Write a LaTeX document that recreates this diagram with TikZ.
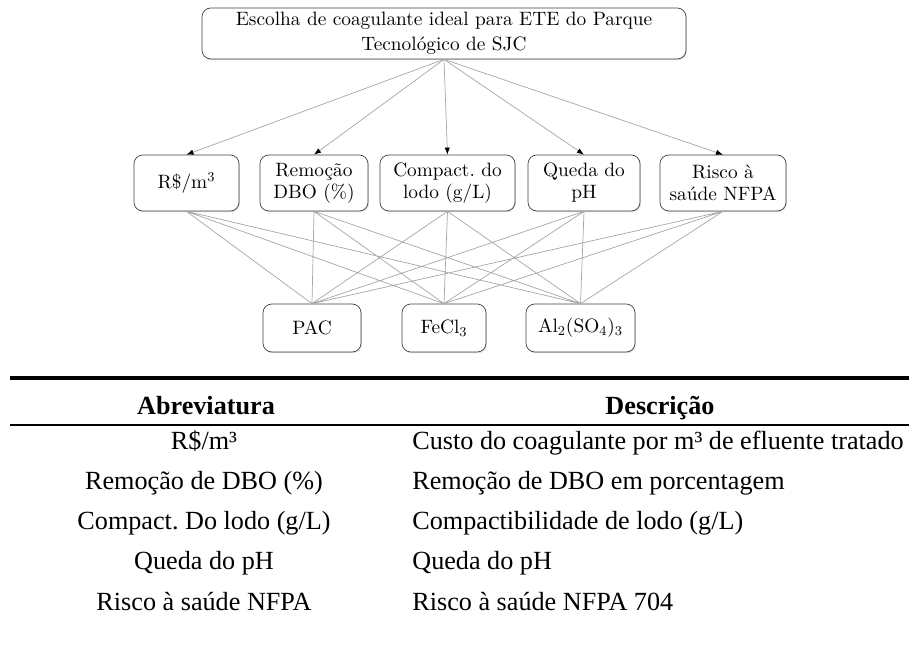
\documentclass[tikz,border=0pt]{standalone}
\usepackage{fontspec}
\setmainfont{Liberation Serif}
\newfontfamily\diagfont{Latin Modern Roman}
\usetikzlibrary{positioning,shapes,shadows,arrows.meta}

\tikzset{
    caixa/.style={draw=black!75, rounded corners=5pt, fill=white, align=center,
        inner sep=0pt, font=\diagfont\fontsize{11}{12.5}\selectfont,
        drop shadow={opacity=0.25, shadow xshift=0.5pt, shadow yshift=-0.7pt}},
    liga/.style={draw=gray!70, line width=0.4pt},
    seta/.style={liga, -{Latex[length=4pt,width=3pt,black]}},
    tabtexto/.style={font=\rmfamily\fontsize{14.9}{18}\selectfont, inner sep=0pt, anchor=base},
    tabtitulo/.style={tabtexto, font=\rmfamily\bfseries\fontsize{14.9}{18}\selectfont},
}

\begin{document}
\frenchspacing
\begin{tikzpicture}
    \useasboundingbox (0,0) rectangle (18.18,-12.94);

    % objetivo
    \node[caixa, minimum width=9.68cm, minimum height=1.02cm,
          font=\diagfont\fontsize{11}{14}\selectfont] (obj) at (8.88,-0.67)
        {Escolha de coagulante ideal para ETE do Parque\\Tecnológico de SJC};

    % criterios
    \node[caixa, minimum width=2.1cm, minimum height=1.12cm] (custo) at (3.73,-3.66)
        {R\$/m\textsuperscript{3}};
    \node[caixa, minimum width=2.16cm, minimum height=1.12cm] (dbo) at (6.28,-3.66)
        {Remoção\\DBO (\%)};
    \node[caixa, minimum width=2.7cm, minimum height=1.12cm] (lodo) at (8.95,-3.66)
        {Compact. do\\lodo (g/L)};
    \node[caixa, minimum width=2.24cm, minimum height=1.12cm] (ph) at (11.68,-3.66)
        {Queda do\\pH};
    \node[caixa, minimum width=2.52cm, minimum height=1.12cm] (risco) at (14.46,-3.66)
        {Risco à\\saúde NFPA};

    % alternativas
    \node[caixa, minimum width=1.96cm, minimum height=0.96cm] (pac) at (6.24,-6.56)
        {PAC};
    \node[caixa, minimum width=1.68cm, minimum height=0.96cm] (fecl) at (8.88,-6.56)
        {FeCl\textsubscript{3}};
    \node[caixa, minimum width=2.18cm, minimum height=0.96cm] (alsul) at (11.61,-6.56)
        {Al\textsubscript{2}(SO\textsubscript{4})\textsubscript{3}};

    \draw[seta] (obj.south) -- (custo.north);
    \draw[seta] (obj.south) -- (dbo.north);
    \draw[seta] (obj.south) -- (lodo.north);
    \draw[seta] (obj.south) -- (ph.north);
    \draw[seta] (obj.south) -- (risco.north);

    \draw[liga]
        (custo.south) -- (pac.north)
        (custo.south) -- (fecl.north)
        (custo.south) -- (alsul.north)
        (dbo.south) -- (pac.north)
        (dbo.south) -- (fecl.north)
        (dbo.south) -- (alsul.north)
        (lodo.south) -- (pac.north)
        (lodo.south) -- (fecl.north)
        (lodo.south) -- (alsul.north)
        (ph.south) -- (pac.north)
        (ph.south) -- (fecl.north)
        (ph.south) -- (alsul.north)
        (risco.south) -- (pac.north)
        (risco.south) -- (fecl.north)
        (risco.south) -- (alsul.north);

    % tabela de abreviaturas
    \coordinate (r1a) at (0.2,-7.56);
    \coordinate (r1b) at (18.18,-7.56);
    \coordinate (r2a) at (0.2,-8.5);
    \coordinate (r2b) at (18.18,-8.5);
    \draw[line width=1.8pt] (r1a) -- (r1b);
    \draw[line width=1.2pt] (r2a) -- (r2b);

    \node[tabtitulo] (habr) at (4.12,-8.3) {Abreviatura};
    \node[tabtitulo] (hdesc) at (13.2,-8.3) {Descrição};

    \node[tabtexto] (a1) at (4.08,-9.0) {R\$/m³};
    \node[tabtexto] (a2) at (4.08,-9.8) {Remoção de DBO (\%)};
    \node[tabtexto] (a3) at (4.08,-10.6) {Compact. Do lodo (g/L)};
    \node[tabtexto] (a4) at (4.08,-11.4) {Queda do pH};
    \node[tabtexto] (a5) at (4.08,-12.2) {Risco à saúde NFPA};

    \node[tabtexto, anchor=base west] (d1) at (8.24,-9.0) {Custo do coagulante por m³ de efluente tratado};
    \node[tabtexto, anchor=base west] (d2) at (8.24,-9.8) {Remoção de DBO em porcentagem};
    \node[tabtexto, anchor=base west] (d3) at (8.24,-10.6) {Compactibilidade de lodo (g/L)};
    \node[tabtexto, anchor=base west] (d4) at (8.24,-11.4) {Queda do pH};
    \node[tabtexto, anchor=base west] (d5) at (8.24,-12.2) {Risco à saúde NFPA 704};
\end{tikzpicture}
\end{document}
